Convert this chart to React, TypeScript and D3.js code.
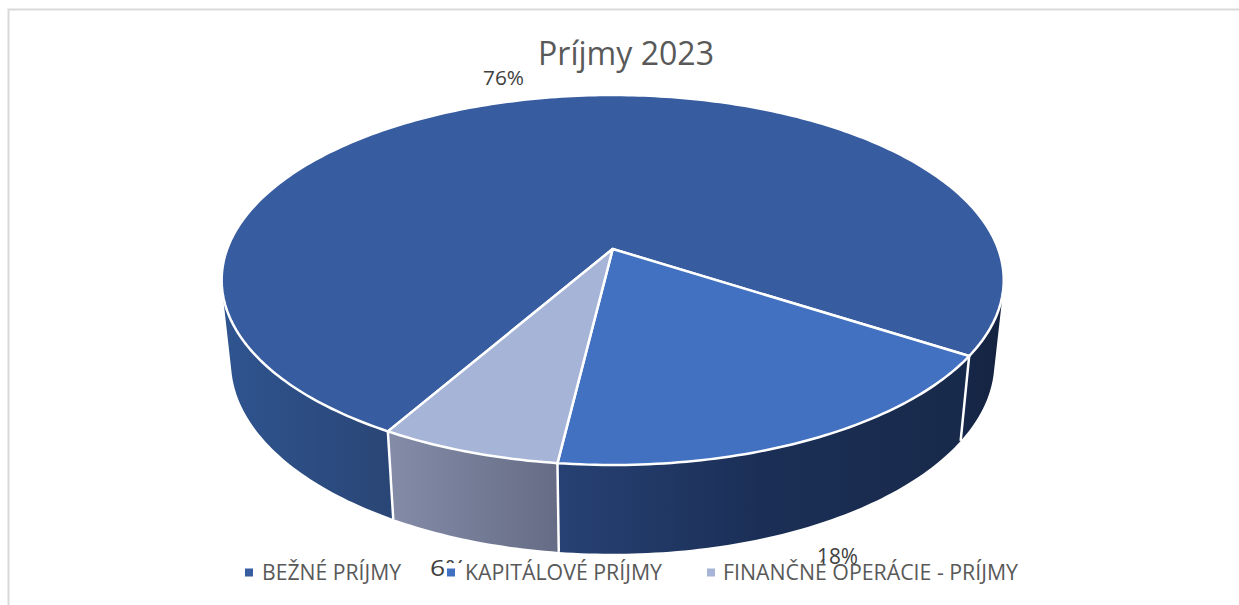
import React from "react";
import { pie, line, scaleLinear, range, curveLinear, polygonArea } from "d3";

const categories = ["BEŽNÉ PRÍJMY", "KAPITÁLOVÉ PRÍJMY", "FINANČNÉ OPERÁCIE - PRÍJMY"];
const values = [75.8, 17.8, 6.4];
const title = "Príjmy 2023";

const topColors = ["#375c9f", "#4271c1", "#a6b4d8"];
const wallStops = [
  [[222, "#2f5490"], [388, "#2a4676"], [560, "#264272"], [960, "#16274a"], [1004, "#15233e"]],
  [[558, "#274174"], [760, "#1b2f56"], [962, "#182a4b"]],
  [[388, "#848ca8"], [558, "#666c85"]],
];

// projected circle: u,v on the ground plane, v towards the viewer
const cx = 612.7;
const cy = 249;
const persp = 0.1676;
const rxTop = 385.5;
const ryTop = 179.8;
const rxBottom = 376.3;
const ryBottom = 186.3;
const cyBottom = 330;
const startDeg = 209.9;

const project = (angle: number, bottom: boolean): [number, number] => {
  const u = Math.sin(angle);
  const v = -Math.cos(angle);
  const w = 1 - persp * v;
  return bottom
    ? [cx + (rxBottom * u) / w, cyBottom + (ryBottom * v) / w]
    : [cx + (rxTop * u) / w, cy + (ryTop * v) / w];
};

const arcs = pie<number>()
  .sort(null)
  .startAngle((startDeg * Math.PI) / 180)
  .endAngle(((startDeg + 360) * Math.PI) / 180)(values);

const path = line().curve(curveLinear);
const sample = (a0: number, a1: number) => {
  const n = Math.ceil(Math.abs(a1 - a0) * 60);
  return range(n + 1).map((i) => a0 + ((a1 - a0) * i) / n);
};

// the wall is a run of small quads, all wound the same way, so their union gives the silhouette
const wallPath = (a0: number, a1: number) => {
  const angles = sample(a0, a1);
  return angles
    .slice(1)
    .map((a, i) => {
      const quad = [project(angles[i], false), project(a, false), project(a, true), project(angles[i], true)];
      if (polygonArea(quad) < 0) quad.reverse();
      return path(quad) + "Z";
    })
    .join("");
};

const legendX = scaleLinear().domain([0, 1, 2]).range([245, 447, 707]);
const legendText = [
  [262, 139],
  [465, 197],
  [723, 295],
];

export default function App() {
  return (
    <svg
      width={1239}
      height={605}
      style={{ position: "absolute", left: 0, top: 0, background: "#fff" }}
      fontFamily="'Open Sans', sans-serif"
    >
      <defs>
        {wallStops.map((stops, i) => {
          const x0 = stops[0][0] as number;
          const x1 = stops[stops.length - 1][0] as number;
          const off = scaleLinear().domain([x0, x1]).range([0, 1]);
          return (
            <linearGradient key={i} id={`wall${i}`} gradientUnits="userSpaceOnUse" x1={x0} x2={x1} y1={0} y2={0}>
              {stops.map((s, j) => (
                <stop key={j} offset={off(s[0] as number)} stopColor={s[1] as string} />
              ))}
            </linearGradient>
          );
        })}
      </defs>

      <path d="M8.5,605V9.5H1239" fill="none" stroke="#d9d9d9" strokeWidth={2} />

      <text x={538} y={65} fontSize={32} fill="#595959" textLength={176} lengthAdjust="spacingAndGlyphs">
        {title}
      </text>

      {arcs.map((d, i) => (
        <path key={i} d={wallPath(d.startAngle, d.endAngle)} fill={`url(#wall${i})`} />
      ))}
      {arcs.map((d, i) => (
        <path
          key={i}
          d={path([project(d.startAngle, false), project(d.startAngle, true)]) as string}
          stroke="#fff"
          strokeWidth={2.5}
        />
      ))}
      {arcs.map((d, i) => {
        const rim = sample(d.startAngle, d.endAngle).map((a) => project(a, false));
        return (
          <path
            key={i}
            d={path([[cx, cy], ...rim]) + "Z"}
            fill={topColors[i]}
            stroke="#fff"
            strokeWidth={2.5}
            strokeLinejoin="round"
          />
        );
      })}

      <text x={483} y={85} fontSize={20} fill="#404040" textLength={41} lengthAdjust="spacingAndGlyphs">
        {values[0].toFixed(0)}%
      </text>
      <text x={430} y={576} fontSize={22} fill="#404040" textLength={37} lengthAdjust="spacingAndGlyphs">
        {values[2].toFixed(0)}%
      </text>
      <rect x={445} y={563} width={590} height={28} fill="#fff" />

      {categories.map((c, i) => (
        <g key={c}>
          <rect x={legendX(i)} y={568.5} width={8} height={8} fill={topColors[i]} />
          <text
            x={legendText[i][0]}
            y={580}
            fontSize={21.5}
            fill="#595959"
            textLength={legendText[i][1]}
            lengthAdjust="spacingAndGlyphs"
          >
            {c}
          </text>
        </g>
      ))}

      <text x={817} y={564} fontSize={21} fill="#404040" textLength={41} lengthAdjust="spacingAndGlyphs">
        {values[1].toFixed(0)}%
      </text>
    </svg>
  );
}
